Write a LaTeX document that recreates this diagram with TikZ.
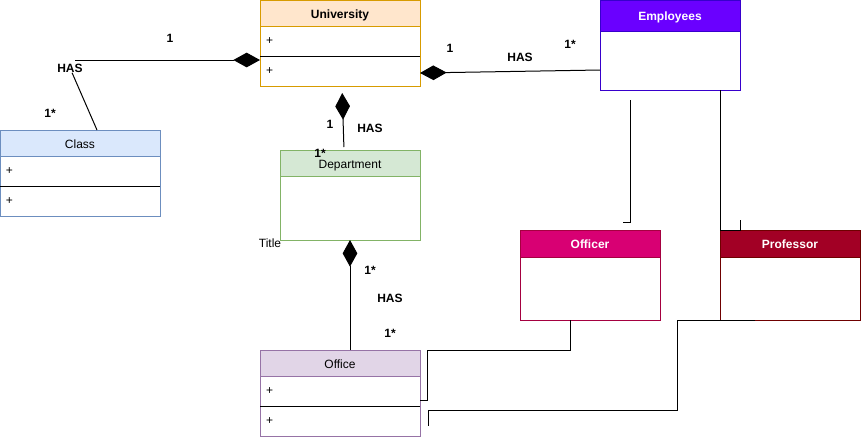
\documentclass[tikz,border=0pt]{standalone}
\usepackage{fontspec}
\setmainfont{Liberation Sans}
\usetikzlibrary{arrows.meta,positioning,calc}
\definecolor{univfill}{HTML}{FFE6CC}
\definecolor{univline}{HTML}{D79B00}
\definecolor{clsfill}{HTML}{DAE8FC}
\definecolor{clsline}{HTML}{6C8EBF}
\definecolor{empfill}{HTML}{6A00FF}
\definecolor{empline}{HTML}{3700CC}
\definecolor{deptfill}{HTML}{D5E8D4}
\definecolor{deptline}{HTML}{82B366}
\definecolor{offcfill}{HTML}{D80073}
\definecolor{offcline}{HTML}{A50040}
\definecolor{proffill}{HTML}{A20025}
\definecolor{profline}{HTML}{6F0000}
\definecolor{officefill}{HTML}{E1D5E7}
\definecolor{officeline}{HTML}{9673A6}

\begin{document}
\begin{tikzpicture}[x=0.75pt, y=-0.75pt, line width=0.75pt,
    every node/.style={font=\fontsize{9}{11}\selectfont},
    bold/.style={font=\fontsize{9}{11}\selectfont\bfseries},
    hdr/.style={rectangle, draw, anchor=north west, inner sep=0pt, outer sep=0pt, minimum height=19.5pt, text height=8pt, text depth=0pt},
    wide/.style={minimum width=120pt},
    narrow/.style={minimum width=105pt},
    row/.style={rectangle, draw, anchor=north west, inner xsep=4.5pt, inner ysep=0pt, outer sep=0pt, minimum height=22.5pt, text width=111pt, align=left},
    body/.style={rectangle, draw, anchor=north west, inner sep=0pt, outer sep=0pt, narrow},
    lbl/.style={bold, inner sep=0pt},
    comp/.style={-{Diamond[length=20pt, width=11pt]}},
]
    \useasboundingbox (0,0) rectangle (861,440);

    % Classes with attributes
    \node[hdr, wide, bold, fill=univfill, draw=univline] (univ) at (260,0) {University};
    \node[row, draw=univline] (univattr) at (univ.south west) {+};
    \node[row, draw=univline] (univop) at (univattr.south west) {+};
    \draw (univattr.south west) -- (univattr.south east);

    \node[hdr, wide, fill=clsfill, draw=clsline] (cls) at (0,130) {Class};
    \node[row, draw=clsline] (clsattr) at (cls.south west) {+};
    \node[row, draw=clsline] (clsop) at (clsattr.south west) {+};
    \draw (clsattr.south west) -- (clsattr.south east);

    \node[hdr, wide, fill=officefill, draw=officeline] (office) at (260,350) {Office};
    \node[row, draw=officeline] (offattr) at (office.south west) {+};
    \node[row, draw=officeline] (offop) at (offattr.south west) {+};
    \draw (offattr.south west) -- (offattr.south east);

    % Classes without attributes
    \node[hdr, narrow, bold, minimum height=23.25pt, text=white, fill=empfill, draw=empline] (emp) at (600,0) {Employees};
    \node[body, minimum height=44.25pt, draw=empline] (empbody) at (emp.south west) {};

    \node[hdr, narrow, fill=deptfill, draw=deptline] (dept) at (280,150) {Department};
    \node[body, minimum height=48pt, draw=deptline] (deptbody) at (dept.south west) {};

    \node[hdr, narrow, bold, minimum height=20.25pt, text=white, fill=offcfill, draw=offcline] (offc) at (520,230) {Officer};
    \node[body, minimum height=47.25pt, draw=offcline] (offcbody) at (offc.south west) {};

    \node[hdr, narrow, bold, minimum height=20.25pt, text=white, fill=proffill, draw=profline] (prof) at (720,230) {Professor};
    \node[body, minimum height=47.25pt, draw=profline] (profbody) at (prof.south west) {};

    % Labels
    \node[lbl] (has1) at (70,68) {HAS};
    \node[lbl] (m1) at (170,38) {1};
    \node[lbl] (m2) at (50,113) {1*};
    \node[lbl] (has2) at (520,57) {HAS};
    \node[lbl] (m3) at (450,48) {1};
    \node[lbl] (m4) at (570,44) {1*};
    \node[lbl] (has3) at (370,128) {HAS};
    \node[lbl] (m5) at (330,124) {1};
    \node[lbl] (m6) at (320,153) {1*};
    \node[inner sep=0pt] (title) at (270,243) {Title};
    \node[lbl] (has4) at (390,298) {HAS};
    \node[lbl] (m7) at (370,270) {1*};
    \node[lbl] (m8) at (390,333) {1*};

    % Compositions
    \coordinate (hasend) at (75,60);
    \draw ($(cls.north west)+(97,0)$) -- (has1);
    \draw[comp] (hasend) -- ($(univop.north west)+(0,4)$);
    \draw[comp] ($(empbody.west)+(0,9.5)$) -- ($(univop.east)+(0,2)$);
    \draw[comp, shorten >=5.25pt, shorten <=2.25pt] ($(dept.north west)+(64,0)$) -- ($(univop.south west)+(82,0)$);
    \draw[comp] ($(office.north west)+(90,0)$) -- (deptbody.south);

    % Other links
    \coordinate (offctop) at (630,100);
    \coordinate (offcend) at (623,222);
    \draw (offctop) |- (offcend);
    \draw ($(empbody.south west)+(120,0)$) -- (prof.north west) -- ++(20,0) -- ++(0,-10);
    \draw ($(offcbody.south west)+(50,0)$) |- (427,350) |- ($(offattr.south east)+(0,-6)$);
    \coordinate (profend) at (428,426);
    \draw ($(profbody.south west)+(35,0)$) -- (677,320) -- (677,410) -| (profend);
\end{tikzpicture}
\end{document}
